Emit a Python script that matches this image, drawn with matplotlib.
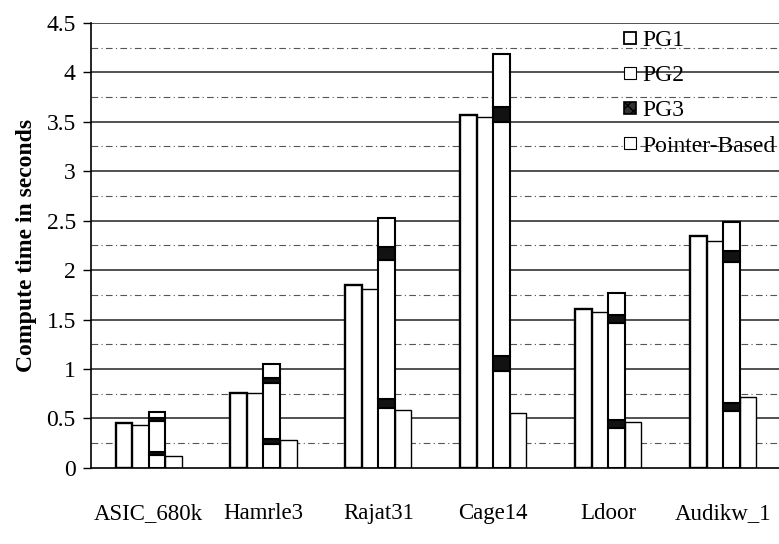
import numpy as np
import matplotlib
matplotlib.use('Agg')
import matplotlib.pyplot as plt
from matplotlib.patches import Patch

plt.rcParams['font.family'] = ['Liberation Serif', 'DejaVu Serif']

datasets = ['ASIC_680k', 'Hamrle3', 'Rajat31', 'Cage14', 'Ldoor', 'Audikw_1']
pg1 = [0.45, 0.76, 1.85, 3.57, 1.61, 2.34]
pg2 = [0.43, 0.76, 1.81, 3.55, 1.58, 2.29]
pointer_based = [0.12, 0.28, 0.58, 0.55, 0.46, 0.72]

# third bar is stacked: light / dark band / light / dark band / light
pg3_low = [0.13, 0.24, 0.61, 0.98, 0.40, 0.57]
pg3_band1 = [0.03, 0.05, 0.09, 0.15, 0.08, 0.09]
pg3_mid = [0.31, 0.57, 1.40, 2.37, 0.98, 1.42]
pg3_band2 = [0.03, 0.05, 0.13, 0.15, 0.09, 0.11]
pg3_top = [0.065, 0.14, 0.30, 0.54, 0.22, 0.30]

legend_labels = ['PG1', 'PG2', 'PG3', 'Pointer-Based']

fig = plt.figure(figsize=(7.79, 5.44), dpi=100)
ax = fig.add_axes([0.117, 0.14, 0.885, 0.818])

x = np.arange(len(datasets))
w = 0.144

# grid
for v in np.arange(0.5, 4.51, 0.5):
    ax.axhline(v, color='#222222', lw=1.1, zorder=0)
for v in np.arange(0.25, 4.5, 0.5):
    ax.axhline(v, color='#555555', lw=0.8, ls=(0, (6, 3, 1, 3)), zorder=0)

ax.bar(x - 1.5 * w, pg1, w, color='white', edgecolor='black', lw=1.7, zorder=2)
ax.bar(x - 0.5 * w, pg2, w, color='white', edgecolor='black', lw=1.0, zorder=2)

bottom = np.zeros(len(x))
segs = [(pg3_low, 'white'), (pg3_band1, '#121212'), (pg3_mid, 'white'),
        (pg3_band2, '#121212'), (pg3_top, 'white')]
for vals, col in segs:
    ax.bar(x + 0.5 * w, vals, w, bottom=bottom, color=col, edgecolor='black',
           lw=1.5, zorder=3)
    bottom += np.array(vals)

ax.bar(x + 1.5 * w, pointer_based, w, color='white', edgecolor='black', lw=1.0, zorder=2)

ax.set_xlim(-0.5, 5.5)
ax.set_ylim(0, 4.5)
ax.set_yticks(np.arange(0, 4.51, 0.5))
ax.set_yticklabels(['0', '0.5', '1', '1.5', '2', '2.5', '3', '3.5', '4', '4.5'], fontsize=17)
ax.set_xticks(x)
ax.set_xticklabels(datasets, fontsize=16.5)
ax.tick_params(axis='x', length=0, pad=25)
ax.tick_params(axis='y', length=6, width=1, direction='out', pad=5)
for s in ['top', 'right']:
    ax.spines[s].set_visible(False)
ax.spines['left'].set_linewidth(1.2)
ax.spines['bottom'].set_linewidth(1.2)
ax.set_ylabel('Compute time in seconds', fontsize=17, fontweight='bold', labelpad=7)

handles = [Patch(facecolor='white', edgecolor='black', lw=1.3),
           Patch(facecolor='white', edgecolor='black', lw=0.8),
           Patch(facecolor='#333333', edgecolor='black', hatch='xxx', lw=1.2),
           Patch(facecolor='white', edgecolor='black', lw=0.8)]
leg = ax.legend(handles, legend_labels, loc='upper right', bbox_to_anchor=(1.006, 1.005),
                frameon=False, fontsize=17, handlelength=0.5, handleheight=0.4,
                handletextpad=0.25, labelspacing=0.6, borderaxespad=0.0)

fig.savefig('out.png', dpi=100)
